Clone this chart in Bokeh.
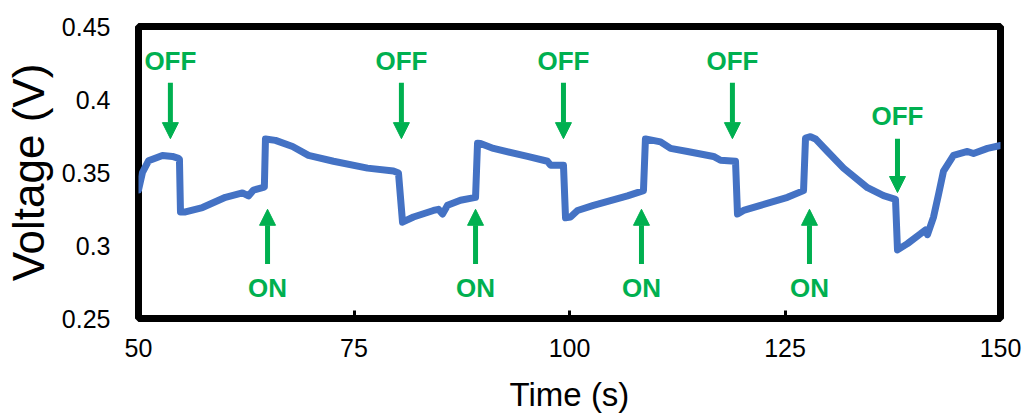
from bokeh.plotting import figure
from bokeh.models import (ColumnDataSource, Range1d, FixedTicker, NumeralTickFormatter,
                          Arrow, NormalHead)
from bokeh.core.properties import value
from bokeh.embed import file_html
from bokeh.resources import INLINE

# ---- data ----
time_s = [50.0, 50.46, 51.16, 52.78, 53.94, 54.64, 54.75, 54.87, 55.45, 57.42, 60.09,
          62.06, 62.76, 63.34, 64.39, 64.6, 64.73, 65.89, 67.87, 69.72, 72.62, 76.57,
          79.58, 80.16, 80.63, 81.90, 84.22, 84.80, 85.27, 85.85, 87.35, 89.10, 89.33,
          89.68, 91.18, 95.13, 97.45, 97.80, 99.30, 99.54, 100.12, 100.93, 102.78,
          106.73, 108.58, 108.81, 110.56, 111.72, 113.69, 116.71, 117.52, 119.26,
          119.49, 120.19, 122.16, 125.29, 127.15, 127.38, 127.96, 128.54, 129.93,
          131.79, 134.57, 136.43, 137.82, 138.05, 139.21, 140.72, 141.30, 141.53,
          142.23, 142.81, 143.39, 144.55, 146.17, 146.87, 148.49, 150.0]
voltage_v = [0.338, 0.350, 0.358, 0.3617, 0.361, 0.3597, 0.359, 0.323, 0.323, 0.326, 0.333,
             0.336, 0.334, 0.338, 0.3397, 0.340, 0.373, 0.372, 0.3678, 0.3617, 0.3577, 0.353,
             0.351, 0.3497, 0.316, 0.3195, 0.324, 0.3248, 0.3215, 0.3275, 0.331, 0.333, 0.370,
             0.3698, 0.3665, 0.361, 0.3577, 0.355, 0.355, 0.319, 0.3195, 0.324, 0.3275,
             0.334, 0.3376, 0.373, 0.371, 0.3665, 0.3644, 0.361, 0.3584, 0.3577,
             0.3215, 0.324, 0.3275, 0.333, 0.3376, 0.3735, 0.3745, 0.373, 0.3644,
             0.353, 0.3396, 0.3342, 0.3316, 0.297, 0.3013, 0.308, 0.3107, 0.3074,
             0.3195, 0.335, 0.351, 0.3617, 0.3644, 0.363, 0.3665, 0.3685]

# switching annotations
off_times = [53.7, 80.5, 99.3, 118.9, 138.05]
off_label_v = [0.4262, 0.4262, 0.4262, 0.4262, 0.3886]
off_tail_v = [0.4114, 0.4114, 0.4114, 0.4114, 0.3732]
off_tip_v = [0.3732, 0.3732, 0.3732, 0.3732, 0.3363]
on_times = [64.97, 89.1, 108.35, 127.84]
on_label_v = [0.2711, 0.2711, 0.2711, 0.2711]
on_tail_v = [0.2873, 0.2873, 0.2873, 0.2873]
on_tip_v = [0.3248, 0.3248, 0.3248, 0.3248]

x_ticks = [50, 75, 100, 125, 150]
y_ticks = [0.25, 0.3, 0.35, 0.4, 0.45]

FONT = "Liberation Sans"
GREEN = "#00B050"
BLUE = "#4472C4"

p = figure(width=1033, height=415, output_backend="svg", toolbar_location=None,
           x_range=Range1d(50, 150), y_range=Range1d(0.25, 0.45),
           min_border_left=137, min_border_right=33, min_border_top=26,
           min_border_bottom=91)
p.grid.visible = False
p.outline_line_color = "black"
p.outline_line_width = 7
p.background_fill_color = "white"
p.border_fill_color = "white"

p.line(time_s, voltage_v, line_color=BLUE, line_width=7, line_join="round", line_cap="round")

# arrows
off_src = ColumnDataSource(dict(x0=off_times, y0=off_tail_v, x1=off_times, y1=off_tip_v))
on_src = ColumnDataSource(dict(x0=on_times, y0=on_tail_v, x1=on_times, y1=on_tip_v))
for src in (off_src, on_src):
    p.add_layout(Arrow(end=NormalHead(size=16, fill_color=GREEN, line_color=GREEN, line_width=1),
                       x_start="x0", y_start="y0", x_end="x1", y_end="y1",
                       line_color=GREEN, line_width=5, source=src))

p.text(off_times, off_label_v, text=["OFF"] * len(off_times), text_color=GREEN,
       text_font=value(FONT), text_font_style="bold", text_font_size="26px",
       text_align="center", text_baseline="middle")
p.text(on_times, on_label_v, text=["ON"] * len(on_times), text_color=GREEN,
       text_font=value(FONT), text_font_style="bold", text_font_size="26px",
       text_align="center", text_baseline="middle")

# axes
xa = p.xaxis[0]
xa.ticker = FixedTicker(ticks=x_ticks)
xa.axis_label = "Time (s)"
xa.axis_label_text_font = FONT
xa.axis_label_text_font_size = "33px"
xa.axis_label_text_font_style = "normal"
xa.axis_label_text_color = "black"
xa.axis_label_standoff = 16
xa.major_label_text_font = FONT
xa.major_label_text_font_size = "25px"
xa.major_label_text_color = "black"
xa.major_label_standoff = 20
xa.axis_line_color = None
xa.major_tick_in = 8
xa.major_tick_out = 0
xa.major_tick_line_width = 3
xa.major_tick_line_color = "black"
xa.minor_tick_line_color = None

ya = p.yaxis[0]
ya.ticker = FixedTicker(ticks=y_ticks)
ya.formatter = NumeralTickFormatter(format="0.0[0]")
ya.axis_label = "Voltage (V)"
ya.axis_label_text_font = FONT
ya.axis_label_text_font_size = "44px"
ya.axis_label_text_font_style = "normal"
ya.axis_label_text_color = "black"
ya.axis_label_standoff = 6
ya.major_label_text_font = FONT
ya.major_label_text_font_size = "25px"
ya.major_label_text_color = "black"
ya.major_label_standoff = 22
ya.axis_line_color = None
ya.major_tick_line_color = None
ya.minor_tick_line_color = None

open("out.html", "w").write(file_html(p, INLINE))
